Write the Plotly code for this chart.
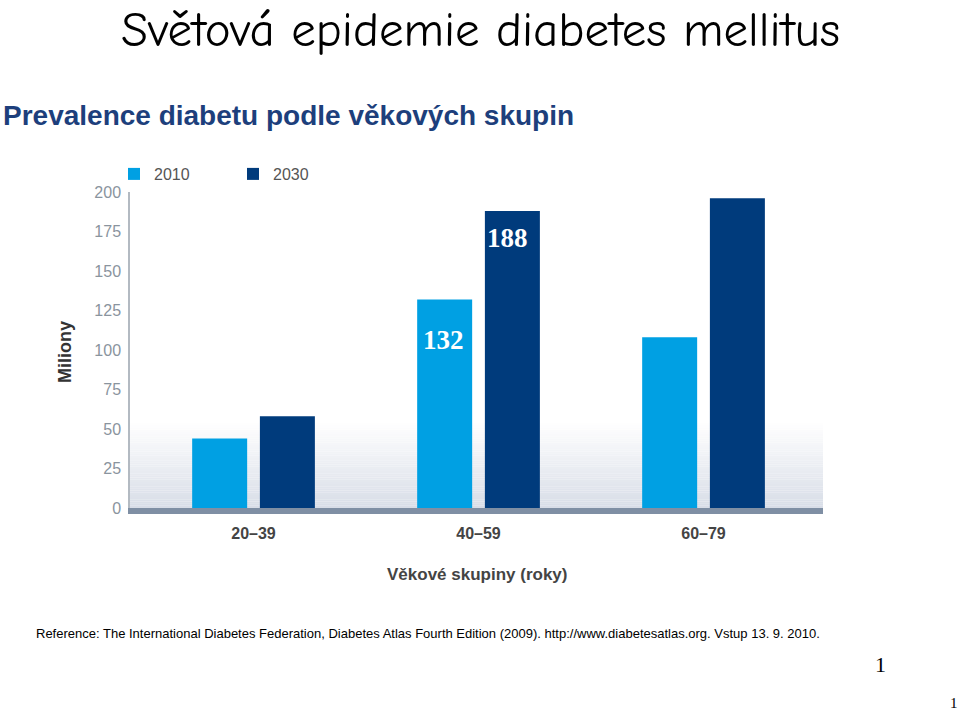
import plotly.graph_objects as go

categories = ["20–39", "40–59", "60–79"]
series_names = ["2010", "2030"]
values_2010 = [44, 132, 108]
values_2030 = [58, 188, 196]
y_ticks = [0, 25, 50, 75, 100, 125, 150, 175, 200]
labeled = [("2010", 1, 132), ("2030", 1, 188)]

W, H = 960, 710
L, R, T, B = 130, 823, 192, 508

def px_x(p):
    return (p - L) / (R - L)

def px_y(p):
    return (B - p) / (B - T)

c2010 = "#00a0e3"
c2030 = "#003b7c"

fig = go.Figure()
fig.add_trace(go.Bar(name=series_names[0], x=categories, y=values_2010,
                     marker=dict(color=c2010, line=dict(width=0))))
fig.add_trace(go.Bar(name=series_names[1], x=categories, y=values_2030,
                     marker=dict(color=c2030, line=dict(width=0))))

# soft gradient band at the bottom of the plot area (non-overlapping strips)
shapes = []
n = 40
top_val = 55.0
c_bot = (216, 221, 231)
c_top = (255, 255, 255)
for k in range(n):
    y0 = top_val * k / n
    y1 = top_val * (k + 1) / n
    t = (k + 0.5) / n
    col = tuple(round(c_bot[i] + (c_top[i] - c_bot[i]) * t) for i in range(3))
    shapes.append(dict(type="rect", xref="paper", yref="y", x0=0, x1=1,
                       y0=y0, y1=y1 + 0.05, line=dict(width=0),
                       fillcolor="rgb(%d,%d,%d)" % col, layer="below"))

annotations = []
annotations.append(dict(text="Světová epidemie diabetes mellitus", x=px_x(481), y=px_y(0),
                        xref="paper", yref="paper", showarrow=False, xanchor="center", yanchor="top",
                        font=dict(family="Comic Sans MS, Comic Neue, Lato, sans-serif", size=49, color="#000000")))
annotations.append(dict(text="<b>Prevalence diabetu podle věkových skupin</b>", x=px_x(1), y=px_y(115),
                        xref="paper", yref="paper", showarrow=False, xanchor="left", yanchor="middle",
                        font=dict(family="Liberation Sans, Arial, sans-serif", size=28, color="#1d3f7c")))
annotations.append(dict(text="<b>Miliony</b>", x=px_x(65), y=px_y(352), textangle=-90,
                        xref="paper", yref="paper", showarrow=False, xanchor="center", yanchor="middle",
                        font=dict(family="Liberation Sans, Arial, sans-serif", size=18, color="#333333")))
annotations.append(dict(text="<b>Věkové skupiny (roky)</b>", x=px_x(477), y=px_y(574),
                        xref="paper", yref="paper", showarrow=False, xanchor="center", yanchor="middle",
                        font=dict(family="Liberation Sans, Arial, sans-serif", size=17, color="#444444")))
annotations.append(dict(text="Reference: The International Diabetes Federation, Diabetes Atlas Fourth Edition (2009). http://www.diabetesatlas.org. Vstup 13. 9. 2010.",
                        x=px_x(34), y=px_y(633), xref="paper", yref="paper", showarrow=False,
                        xanchor="left", yanchor="middle",
                        font=dict(family="Liberation Sans, Arial, sans-serif", size=13, color="#000000")))
annotations.append(dict(text="1", x=px_x(880), y=px_y(664), xref="paper", yref="paper", showarrow=False,
                        xanchor="center", yanchor="middle",
                        font=dict(family="Liberation Serif, Times New Roman, serif", size=22, color="#000000")))
annotations.append(dict(text="1", x=px_x(954), y=px_y(703), xref="paper", yref="paper", showarrow=False,
                        xanchor="center", yanchor="middle",
                        font=dict(family="Liberation Serif, Times New Roman, serif", size=15, color="#000000")))
# data labels inside bars
label_shift = {"2010": (-35, -41), "2030": (29, -27)}
for name, ci, val in labeled:
    dx, dy = label_shift[name]
    annotations.append(dict(text="<b>%d</b>" % val, x=categories[ci], y=val, xref="x", yref="y",
                            xshift=dx, yshift=dy, showarrow=False, xanchor="center", yanchor="middle",
                            font=dict(family="Liberation Serif, Times New Roman, serif", size=27, color="#ffffff")))

fig.update_layout(
    width=W, height=H,
    margin=dict(l=L, r=W - R, t=T, b=H - B, pad=0),
    paper_bgcolor="#ffffff", plot_bgcolor="#ffffff",
    barmode="group", bargap=0.398, bargroupgap=0.188,
    showlegend=True,
    legend=dict(orientation="h", x=px_x(114), y=px_y(174), xanchor="left", yanchor="middle",
                xref="paper", yref="paper",
                font=dict(family="Liberation Sans, Arial, sans-serif", size=16, color="#555555"),
                entrywidth=74, entrywidthmode="pixels", itemwidth=30, bgcolor="rgba(0,0,0,0)",
                traceorder="normal"),
    xaxis=dict(type="category", range=[-0.549, 2.531], showline=True, linecolor="#7f8fa4",
               linewidth=6, ticks="", showgrid=False, zeroline=False,
               tickfont=dict(family="Liberation Sans, Arial, sans-serif", size=16, color="#444444"),
               tickprefix="<b>", ticksuffix="</b>", ticklabelstandoff=6),
    yaxis=dict(range=[0, 200], tickvals=y_ticks, showline=True, linecolor="#b3bac2", linewidth=1.5,
               showgrid=False, zeroline=False, ticks="",
               tickfont=dict(family="Liberation Sans, Arial, sans-serif", size=16, color="#8a949e"),
               ticklabelstandoff=4),
    shapes=shapes,
    annotations=annotations,
)

fig.write_html("out.html", config={"displayModeBar": False},
               post_script="document.body.style.margin='0px';document.body.style.padding='0px';")
